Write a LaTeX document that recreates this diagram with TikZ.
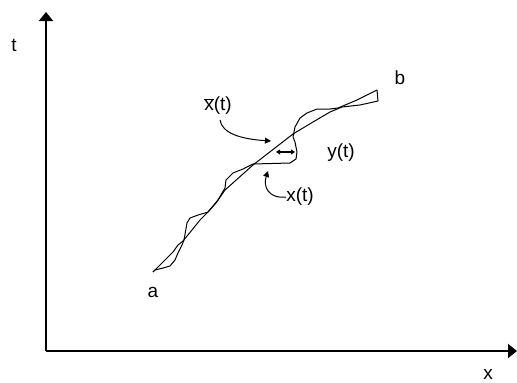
\documentclass[tikz,border=0pt]{standalone}
\usepackage{fontspec}
\setmainfont{Liberation Sans}
\usetikzlibrary{arrows.meta}
\begin{document}
\begin{tikzpicture}[x=1pt,y=-1pt,
  lbl/.style={inner sep=0pt,font=\fontsize{19}{22}\selectfont},
  axis/.style={line width=2pt,-{Triangle[length=9pt,width=14pt]}},
  curve/.style={line width=1pt,line join=round},
  pointer/.style={line width=1pt,-{Triangle[length=6pt,width=6pt]}},
  dbl/.style={line width=1.4pt,{Triangle[length=4pt,width=5pt]}-{Triangle[length=4pt,width=5pt]}}]
\useasboundingbox (0,0) rectangle (517,383);
% axes
\coordinate (O) at (46,351);
\coordinate (ytop) at (46,12);
\coordinate (xend) at (517,351);
\draw[axis] (O) -- (ytop);
\draw[axis] (O) -- (xend);
\node[lbl] (t) at (14,45) {t};
\node[lbl] (x) at (488,374) {x};
% curves
\draw[curve] (153,272) -- (158,267) -- (167,258) -- (173,252) -- (178,245) -- (183,241)
  -- (192,230) -- (200,220) -- (208,212) -- (216,203) -- (225,190) -- (253,165)
  -- (293,134) -- (313,122) -- (330,112) -- (342,107) -- (360,105) -- (378,101) -- (377,90);
\draw[curve] (153,272) -- (155,270) -- (163,268) -- (170,266) -- (175,260) -- (178,253)
  -- (182,245) -- (184,240) -- (187,223) -- (190,218) -- (198,215) -- (205,213) -- (208,212)
  -- (218,200) -- (225,188) -- (226,180) -- (233,173) -- (243,169) -- (253,164) -- (290,163)
  -- (296,159) -- (297,152) -- (295,142) -- (293,137) -- (295,127) -- (300,118) -- (307,113)
  -- (317,109) -- (330,109) -- (338,108) -- (357,100) -- (377,90);
% labels
\node[lbl] (a) at (153,292) {a};
\node[lbl] (b) at (400,78) {b};
\node[lbl] (xbar) at (218,106) {$\overline{\mbox{x}}$(t)};
\node[lbl] (yt) at (341,153) {y(t)};
\node[lbl] (xt) at (300,197) {x(t)};
% pointers
\coordinate (xbarstart) at (220,120);
\coordinate (xbarend) at (271,141);
\draw[pointer] (xbarstart) .. controls (222,133) and (240,139) .. (xbarend);
\coordinate (xtend) at (268,171);
\draw[pointer] (xt.west) .. controls (268,199) and (263,186) .. (xtend);
\coordinate (yl) at (276,152);
\coordinate (yr) at (295,152);
\draw[dbl] (yl) -- (yr);
\end{tikzpicture}
\end{document}
